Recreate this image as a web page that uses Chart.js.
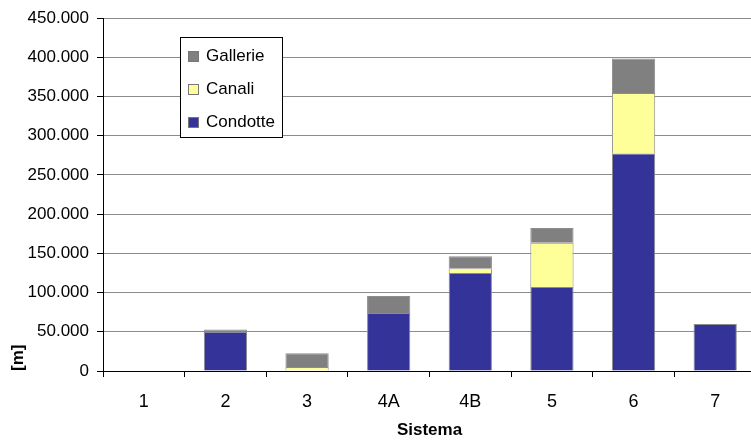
<!DOCTYPE html>
<html>
<head>
<meta charset="utf-8">
<script src="https://cdn.jsdelivr.net/npm/chart.js@4.4.1/dist/chart.umd.min.js"></script>
<style>
  html, body { margin: 0; padding: 0; background: #fff; overflow: hidden; }
  #wrap { position: relative; width: 760px; height: 447px; }
</style>
</head>
<body>
<div id="wrap"><canvas id="graf_sistemi"></canvas></div>
<script>
// Lunghezze per sistema [m]
const sistemi = ["1", "2", "3", "4A", "4B", "5", "6", "7"];
const condotte = [0, 50000, 0, 74000, 125000, 107000, 277500, 60000];
const canali = [0, 0, 5000, 0, 6000, 56500, 77000, 0];
const gallerie = [0, 3000, 17500, 21700, 15500, 19000, 44000, 0];

const FONT = "'Liberation Sans Narrow', 'Liberation Sans', Arial, sans-serif";

// separatore delle migliaia con il punto
function formatoIt(v) {
    return String(v).replace(/\B(?=(\d{3})+(?!\d))/g, ".");
}

// legenda disegnata dentro l'area del grafico
const legendaInterna = {
    id: "legendaInterna",
    afterDraw(chart) {
        const ctx = chart.ctx;
        const x = 180, y = 37, w = 102, h = 100;
        ctx.save();
        ctx.fillStyle = "#fff";
        ctx.fillRect(x, y, w, h);
        ctx.strokeStyle = "#000";
        ctx.lineWidth = 1;
        ctx.strokeRect(x + 0.5, y + 0.5, w, h);
        ctx.font = "17px " + FONT;
        ctx.textBaseline = "middle";
        const ds = chart.data.datasets.slice().reverse();
        ds.forEach((d, i) => {
            const cy = y + 19 + i * 33;
            ctx.fillStyle = d.backgroundColor;
            ctx.fillRect(x + 8, cy - 5, 11, 11);
            ctx.strokeStyle = "#777";
            ctx.strokeRect(x + 8.5, cy - 4.5, 10, 10);
            ctx.fillStyle = "#000";
            ctx.fillText(d.label, x + 26, cy);
        });
        ctx.restore();
    }
};

new Chart(document.getElementById("graf_sistemi"), {
    type: "bar",
    data: {
        labels: sistemi,
        datasets: [
            {
                label: "Condotte",
                data: condotte,
                backgroundColor: "#333399",
                borderColor: "#8c8c8c",
                borderWidth: 1,
                borderSkipped: "bottom"
            },
            {
                label: "Canali",
                data: canali,
                backgroundColor: "#ffff99",
                borderColor: "#8c8c8c",
                borderWidth: 1,
                borderSkipped: "bottom"
            },
            {
                label: "Gallerie",
                data: gallerie,
                backgroundColor: "#808080",
                borderColor: "#8c8c8c",
                borderWidth: 1,
                borderSkipped: "bottom"
            }
        ]
    },
    options: {
        responsive: true,
        maintainAspectRatio: false,
        animation: false,
        layout: { padding: { top: 17, right: 4, left: 0, bottom: 0 } },
        datasets: { bar: { categoryPercentage: 0.53, barPercentage: 1 } },
        plugins: {
            legend: { display: false },
            tooltip: { enabled: false }
        },
        scales: {
            x: {
                stacked: true,
                afterFit(s) { s.height = 76; },
                border: { display: true, color: "#000", width: 1 },
                grid: {
                    display: true,
                    offset: true,
                    drawOnChartArea: false,
                    drawTicks: true,
                    tickLength: 6,
                    color: "#000"
                },
                ticks: {
                    color: "#000",
                    padding: 14,
                    font: { family: FONT, size: 18 }
                },
                title: {
                    display: true,
                    text: "Sistema",
                    color: "#000",
                    padding: { top: 4, bottom: 6 },
                    font: { family: FONT, size: 17, weight: "bold" }
                }
            },
            y: {
                stacked: true,
                min: 0,
                max: 450000,
                afterFit(s) { s.width = 103; },
                border: { display: true, color: "#000", width: 1 },
                grid: {
                    color: "#8c8c8c",
                    lineWidth: 1,
                    drawTicks: true,
                    tickLength: 6,
                    tickColor: "#000"
                },
                ticks: {
                    stepSize: 50000,
                    color: "#000",
                    padding: 8,
                    font: { family: FONT, size: 17 },
                    callback: (v) => formatoIt(v)
                },
                title: {
                    display: true,
                    text: "[m]",
                    align: "start",
                    color: "#000",
                    padding: { top: 8, bottom: 0 },
                    font: { family: FONT, size: 17, weight: "bold" }
                }
            }
        }
    },
    plugins: [legendaInterna]
});
</script>
</body>
</html>
